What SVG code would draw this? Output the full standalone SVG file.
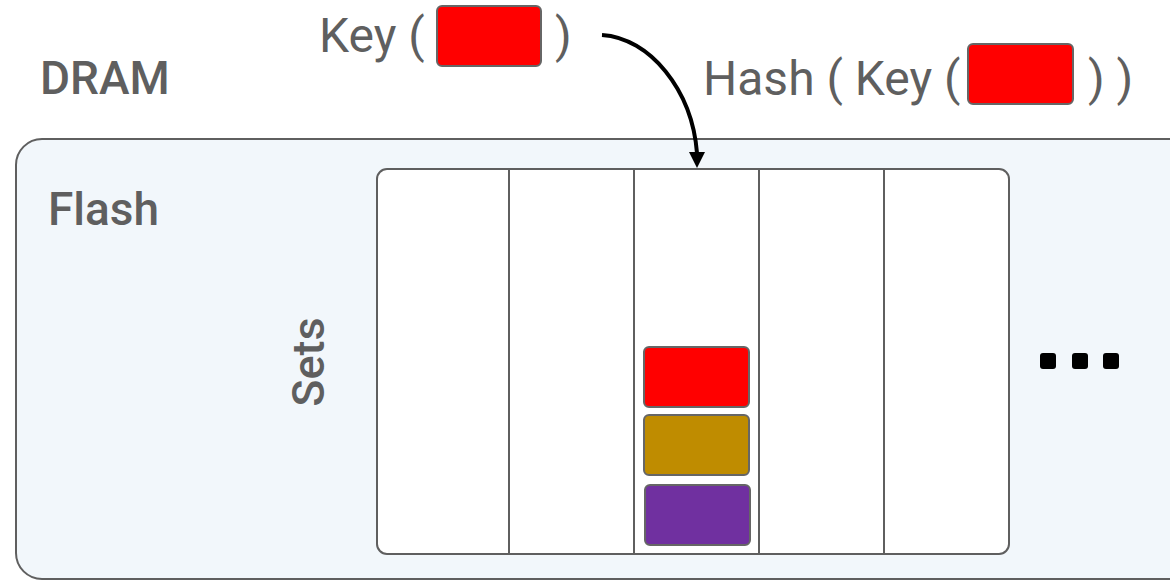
<svg xmlns="http://www.w3.org/2000/svg" width="1170" height="581" viewBox="0 0 1170 581">
  <defs>
    <style>
      .lbl { font-family: Roboto, "Liberation Sans", sans-serif; fill: #5f5f5f; }
      .bold { font-weight: 500; }
      .frame { fill: #f2f7fb; stroke: #5f5f5f; stroke-width: 2; }
      .sets { fill: #ffffff; stroke: #5f5f5f; stroke-width: 2; }
      .div { stroke: #5f5f5f; stroke-width: 2; }
      .item { stroke: #666666; stroke-width: 2; }
      .dot { fill: #000000; }
    </style>
  </defs>

  <g id="dram">
    <text class="lbl bold" x="40" y="94" font-size="46">DRAM</text>
  </g>

  <g id="key">
    <text class="lbl" x="319" y="52" font-size="48">Key (</text>
    <rect class="item" x="437" y="6" width="104" height="60" rx="5" fill="#ff0000"/>
    <text class="lbl" x="555" y="52" font-size="48">)</text>
  </g>

  <g id="hash">
    <text class="lbl" x="703" y="95" font-size="48">Hash ( Key (</text>
    <rect class="item" x="968" y="44" width="105" height="60" rx="5" fill="#ff0000"/>
    <text class="lbl" x="1088" y="95" font-size="48">) )</text>
  </g>

  <g id="flash">
    <rect class="frame" x="16" y="139" width="1180" height="440" rx="26"/>
    <text class="lbl bold" x="48" y="225" font-size="46">Flash</text>
  </g>

  <g id="set-table">
    <rect class="sets" x="377" y="169" width="632" height="385" rx="10"/>
    <line class="div" x1="509" y1="169" x2="509" y2="554"/>
    <line class="div" x1="634" y1="169" x2="634" y2="554"/>
    <line class="div" x1="759" y1="169" x2="759" y2="554"/>
    <line class="div" x1="884" y1="169" x2="884" y2="554"/>
    <text class="lbl bold" transform="translate(324,362) rotate(-90)" text-anchor="middle" font-size="45">Sets</text>
  </g>

  <g id="items">
    <rect class="item" x="644" y="347" width="105" height="60" rx="5" fill="#ff0000"/>
    <rect class="item" x="644" y="415" width="105" height="60" rx="5" fill="#bf8c00"/>
    <rect class="item" x="645" y="485" width="105" height="60" rx="5" fill="#7030a0"/>
  </g>

  <g id="more">
    <rect class="dot" x="1040" y="353" width="16" height="16" rx="3"/>
    <rect class="dot" x="1072" y="353" width="16" height="16" rx="3"/>
    <rect class="dot" x="1103" y="353" width="16" height="16" rx="3"/>
  </g>

  <g id="connectors">
    <path d="M602,35 C650,38 692,90 697,153" fill="none" stroke="#000" stroke-width="4"/>
    <polygon points="689,152 705,152 697,168" fill="#000"/>
  </g>
</svg>
